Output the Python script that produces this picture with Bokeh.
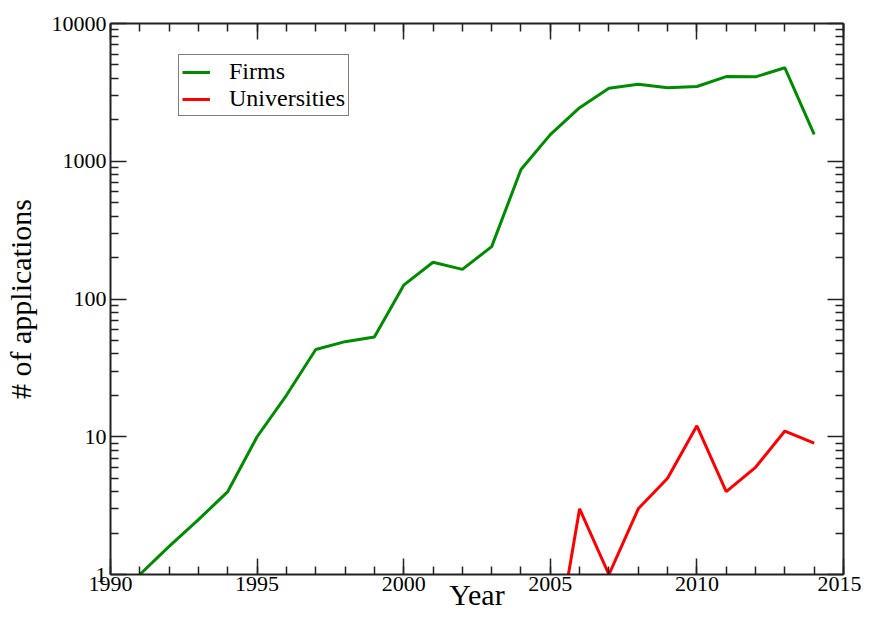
from bokeh.plotting import figure
from bokeh.models import Range1d, FixedTicker, NumeralTickFormatter, LinearAxis, LogAxis, Legend, LegendItem
from bokeh.embed import file_html
from bokeh.resources import INLINE

years_firms = [1991, 1992, 1993, 1994, 1995, 1996, 1997, 1998, 1999, 2000, 2001, 2002,
               2003, 2004, 2005, 2006, 2007, 2008, 2009, 2010, 2011, 2012, 2013, 2014]
firms = [1, 1.6, 2.5, 4, 10, 20, 43, 49, 53, 126, 185, 164,
         240, 870, 1560, 2450, 3390, 3620, 3410, 3490, 4120, 4100, 4770, 1565]

years_univ = [2004, 2005, 2006, 2007, 2008, 2009, 2010, 2011, 2012, 2013, 2014]
universities = [1, 0.17, 3, 1, 3, 5, 12, 4, 6, 11, 9]

x_major = [1990, 1995, 2000, 2005, 2010, 2015]
x_minor = list(range(1990, 2016))
y_major = [1, 10, 100, 1000, 10000]
y_minor = [m * d for d in [1, 10, 100, 1000] for m in range(2, 10)]

FONT = "Liberation Serif"
GREEN = "#008c00"
RED = "#ff0000"

p = figure(width=861, height=618, output_backend="svg", toolbar_location=None,
           y_axis_type="log", x_range=Range1d(1990, 2015), y_range=Range1d(1, 10000),
           min_border_left=110, min_border_right=18, min_border_top=23, min_border_bottom=44)
p.xgrid.visible = False
p.ygrid.visible = False
p.outline_line_color = None
p.background_fill_color = "white"
p.border_fill_color = "white"

l1 = p.line(years_firms, firms, line_color=GREEN, line_width=3)
l2 = p.line(years_univ, universities, line_color=RED, line_width=3)

def style(ax):
    ax.axis_line_color = "#222222"
    ax.axis_line_width = 2
    ax.major_tick_line_color = "#222222"
    ax.minor_tick_line_color = "#222222"
    ax.major_tick_line_width = 1.5
    ax.minor_tick_line_width = 1.5
    ax.major_tick_in = 16
    ax.major_tick_out = 0
    ax.minor_tick_in = 8
    ax.minor_tick_out = 0
    ax.major_label_text_font = FONT
    ax.major_label_text_color = "black"
    ax.major_label_text_font_size = "22px"

xa = p.xaxis[0]
xa.ticker = FixedTicker(ticks=x_major, minor_ticks=x_minor)
style(xa)
xa.major_label_standoff = 2
xa.axis_label = "Year"
xa.axis_label_text_font = FONT
xa.axis_label_text_font_size = "30px"
xa.axis_label_text_font_style = "normal"
xa.axis_label_text_color = "black"
xa.axis_label_standoff = -16

ya = p.yaxis[0]
ya.ticker = FixedTicker(ticks=y_major, minor_ticks=y_minor)
ya.formatter = NumeralTickFormatter(format="0")
style(ya)
ya.major_label_standoff = 4
ya.axis_label = "# of applications"
ya.axis_label_text_font = FONT
ya.axis_label_text_font_size = "30px"
ya.axis_label_text_font_style = "normal"
ya.axis_label_text_color = "black"
ya.axis_label_standoff = 12

top = LinearAxis(ticker=FixedTicker(ticks=x_major, minor_ticks=x_minor))
style(top)
top.major_label_overrides = {t: "" for t in x_major}
top.major_label_standoff = 0
p.add_layout(top, "above")
right = LogAxis(ticker=FixedTicker(ticks=y_major, minor_ticks=y_minor))
style(right)
right.major_label_overrides = {t: "" for t in y_major}
right.major_label_standoff = 0
p.add_layout(right, "right")

legend = Legend(items=[LegendItem(label="Firms", renderers=[l1]),
                       LegendItem(label="Universities", renderers=[l2])],
                location=(68, 458))
legend.label_text_font = FONT
legend.label_text_font_size = "24px"
legend.label_text_color = "black"
legend.glyph_width = 28
legend.glyph_height = 22
legend.label_height = 22
legend.label_standoff = 19
legend.padding = 3
legend.spacing = 0
legend.margin = 0
legend.border_line_color = "black"
legend.border_line_width = 1
legend.background_fill_alpha = 1
p.add_layout(legend, "center")

open("out.html", "w").write(file_html(p, INLINE))
